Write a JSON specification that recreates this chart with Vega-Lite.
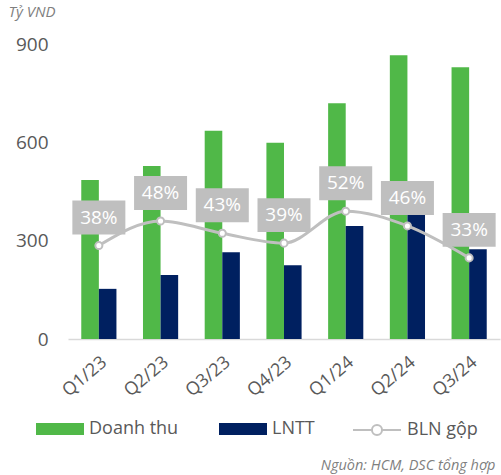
{
  "$schema": "https://vega.github.io/schema/vega-lite/v6.json",
  "width": 432,
  "height": 295,
  "autosize": {"type": "none"},
  "padding": {"left": 68, "top": 44, "right": 1, "bottom": 136},
  "background": "white",
  "config": {
    "font": "Open Sans",
    "view": {"stroke": null}
  },
  "datasets": {
    "bars": [
      {"q": "Q1/23", "series": "Doanh thu", "value": 485},
      {"q": "Q1/23", "series": "LNTT", "value": 153},
      {"q": "Q2/23", "series": "Doanh thu", "value": 528},
      {"q": "Q2/23", "series": "LNTT", "value": 195},
      {"q": "Q3/23", "series": "Doanh thu", "value": 635},
      {"q": "Q3/23", "series": "LNTT", "value": 265},
      {"q": "Q4/23", "series": "Doanh thu", "value": 599},
      {"q": "Q4/23", "series": "LNTT", "value": 225},
      {"q": "Q1/24", "series": "Doanh thu", "value": 719},
      {"q": "Q1/24", "series": "LNTT", "value": 345},
      {"q": "Q2/24", "series": "Doanh thu", "value": 866},
      {"q": "Q2/24", "series": "LNTT", "value": 385},
      {"q": "Q3/24", "series": "Doanh thu", "value": 829},
      {"q": "Q3/24", "series": "LNTT", "value": 274}
    ],
    "line": [
      {"q": "Q1/23", "bln": 0.38},
      {"q": "Q2/23", "bln": 0.48},
      {"q": "Q3/23", "bln": 0.43},
      {"q": "Q4/23", "bln": 0.39},
      {"q": "Q1/24", "bln": 0.52},
      {"q": "Q2/24", "bln": 0.46},
      {"q": "Q3/24", "bln": 0.33}
    ]
  },
  "encoding": {
    "x": {
      "field": "q",
      "type": "nominal",
      "sort": null,
      "scale": {"paddingInner": 0.43, "paddingOuter": 0.215},
      "axis": {
        "title": "Nguồn: HCM, DSC tổng hợp",
        "titleX": 427,
        "titleY": 130,
        "titleAlign": "right",
        "titleBaseline": "alphabetic",
        "titleAngle": 0,
        "titleFontSize": 14.5,
        "titleFontStyle": "italic",
        "titleFontWeight": "normal",
        "titleColor": "#7F7F7F",
        "labelAngle": -40,
        "labelAlign": "right",
        "labelBaseline": "top",
        "labelFontSize": 18,
        "labelColor": "#595959",
        "labelPadding": 14,
        "ticks": false,
        "domainColor": "#D9D9D9",
        "domainWidth": 1.5
      }
    }
  },
  "layer": [
    {
      "data": {"name": "bars"},
      "mark": {"type": "bar"},
      "encoding": {
        "xOffset": {"field": "series", "type": "nominal", "sort": ["Doanh thu", "LNTT"]},
        "y": {
          "field": "value",
          "type": "quantitative",
          "scale": {"domain": [0, 900], "nice": false},
          "axis": {
            "values": [0, 300, 600, 900],
            "grid": false,
            "ticks": false,
            "domain": false,
            "labelFontSize": 19,
            "labelColor": "#595959",
            "labelPadding": 20,
            "title": "Tỷ VND",
            "titleAngle": 0,
            "titleAlign": "left",
            "titleBaseline": "alphabetic",
            "titleX": -60,
            "titleY": -28,
            "titleFontSize": 15,
            "titleFontStyle": "italic",
            "titleFontWeight": "normal",
            "titleColor": "#7F7F7F"
          }
        },
        "fill": {
          "field": "series",
          "type": "nominal",
          "scale": {
            "domain": ["Doanh thu", "LNTT"],
            "range": ["#50B848", "#002060"]
          },
          "legend": {
            "orient": "none",
            "direction": "horizontal",
            "legendX": -32,
            "legendY": 361,
            "title": null,
            "labelFontSize": 18,
            "labelColor": "#595959",
            "labelOffset": 5,
            "columnPadding": 40,
            "symbolType": "M-1,-0.25L1,-0.25L1,0.25L-1,0.25Z",
            "symbolSize": 2304,
            "symbolStrokeWidth": 0
          }
        }
      }
    },
    {
      "data": {"name": "line"},
      "encoding": {
        "y": {
          "field": "bln",
          "type": "quantitative",
          "scale": {"domain": [0, 1.2], "nice": false},
          "axis": null
        }
      },
      "layer": [
        {
          "mark": {"type": "line", "interpolate": "monotone", "strokeWidth": 3},
          "encoding": {
            "stroke": {
              "datum": "BLN gộp",
              "scale": {"domain": ["BLN gộp"], "range": ["#BFBFBF"]},
              "legend": {
                "orient": "none",
                "legendX": 284,
                "legendY": 361,
                "title": null,
                "labelFontSize": 18,
                "labelColor": "#595959",
                "labelOffset": 5,
                "symbolType": "M-1,0L-0.21,0M0.21,0L1,0M-0.21,0A0.21,0.21,0,1,0,0.21,0A0.21,0.21,0,1,0,-0.21,0Z",
                "symbolSize": 2304,
                "symbolStrokeWidth": 2,
                "symbolFillColor": "#ffffff",
                "encode": {
                  "symbols": {
                    "update": {
                      "fill": {"value": "#ffffff"},
                      "fillOpacity": {"value": 1},
                      "strokeWidth": {"value": 2}
                    }
                  }
                }
              }
            }
          }
        },
        {
          "mark": {"type": "point", "filled": true, "fill": "white", "stroke": "#BFBFBF", "strokeWidth": 2, "size": 50, "opacity": 1}
        },
        {
          "mark": {
            "type": "point",
            "filled": true,
            "shape": "M-1,-0.64L1,-0.64L1,0.64L-1,0.64Z",
            "size": 2809,
            "color": "#BFBFBF",
            "opacity": 1,
            "yOffset": -28
          }
        },
        {
          "mark": {"type": "text", "color": "white", "fontSize": 19, "yOffset": -28, "baseline": "middle", "align": "center"},
          "encoding": {"text": {"field": "bln", "type": "quantitative", "format": ".0%"}}
        }
      ]
    }
  ],
  "resolve": {"scale": {"y": "independent"}}
}
